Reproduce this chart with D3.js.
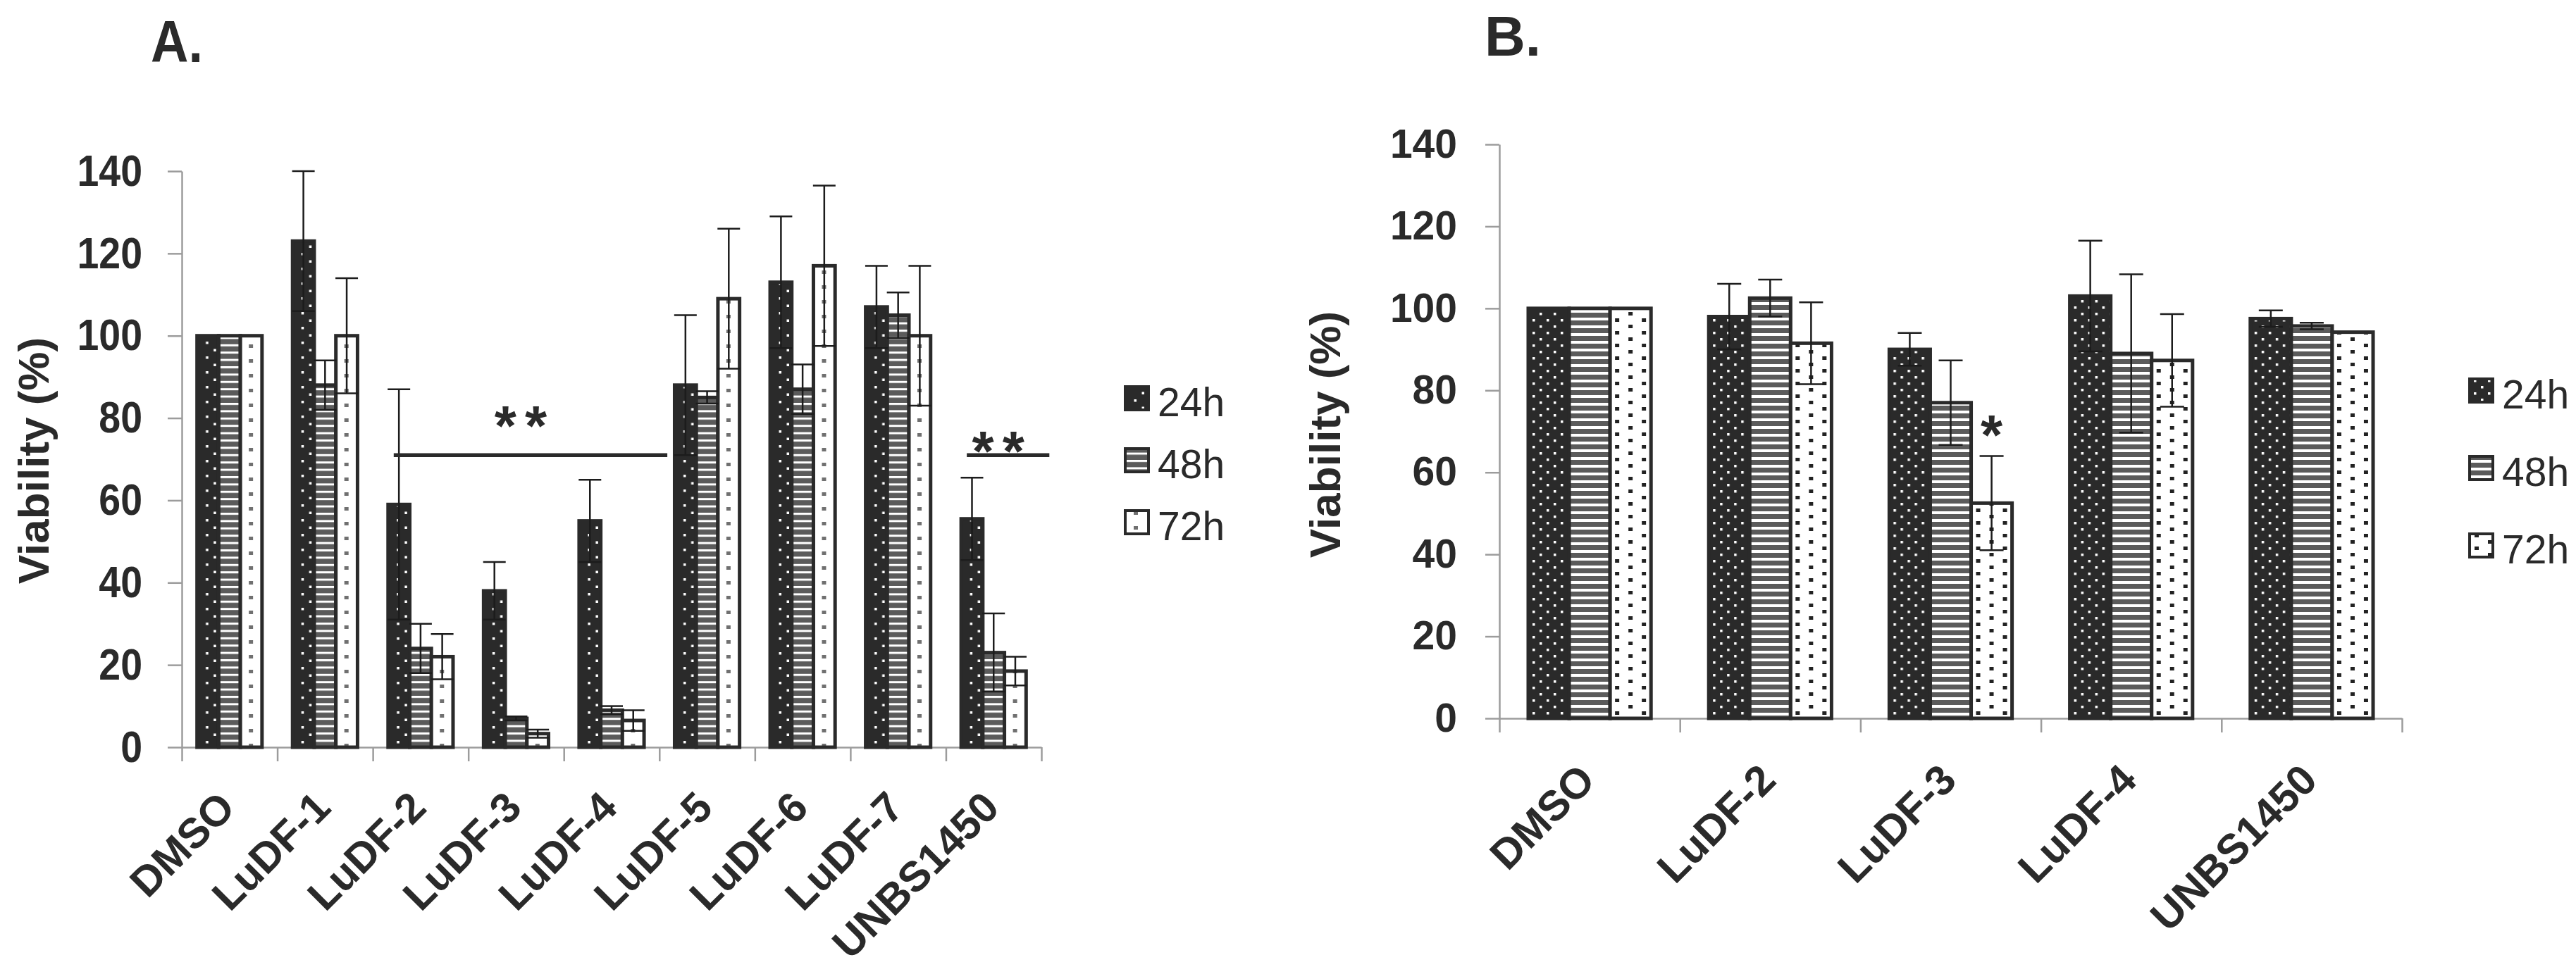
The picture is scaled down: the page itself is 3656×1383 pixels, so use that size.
<!DOCTYPE html>
<html>
<head>
<meta charset="utf-8">
<script src="https://cdn.jsdelivr.net/npm/d3@7"></script>
<style>
  body { margin: 0; background: #fff; }
  svg { display: block; font-family: "Liberation Sans", Arial, sans-serif; }
</style>
</head>
<body>
<svg id="chart"></svg>
<script>
// ---- data ----
const seriesLabels = ["24h", "48h", "72h"];
const yTicks = [0, 20, 40, 60, 80, 100, 120, 140];

// panel A
const catsA = ["DMSO", "LuDF-1", "LuDF-2", "LuDF-3", "LuDF-4", "LuDF-5", "LuDF-6", "LuDF-7", "UNBS1450"];
const meanA24 = [100, 123, 59, 38, 55, 88, 113, 107, 55.5];
const meanA48 = [100, 88, 24, 7, 9, 85, 87, 105, 23];
const meanA72 = [100, 100, 22, 3.3, 6.5, 109, 117, 100, 18.5];
const errA24 = [0, 17, 28, 7, 10, 17, 16, 10, 10];
const errA48 = [0, 6, 6, 0.5, 1, 1.5, 6, 5.5, 9.5];
const errA72 = [0, 14, 5.5, 1, 2.5, 17, 19.5, 17, 3.5];
const sigA = [
  { from: "LuDF-2", to: "LuDF-4", level: 71, mark: "**" },
  { from: "UNBS1450", to: "UNBS1450", level: 71, mark: "**" }
];

// panel B
const catsB = ["DMSO", "LuDF-2", "LuDF-3", "LuDF-4", "UNBS1450"];
const meanB24 = [100, 98, 90, 103, 97.5];
const meanB48 = [100, 102.5, 77, 89, 95.7];
const meanB72 = [100, 91.5, 52.5, 87.3, 94.2];
const errB24 = [0, 8, 4, 13.5, 2];
const errB48 = [0, 4.5, 10.3, 19.3, 0.8];
const errB72 = [0, 10, 11.5, 11.3, 0];
const sigB = [{ cat: "LuDF-3", series: "72h", mark: "*" }];

// ---- setup ----
const W = 3656, H = 1383;
const ink = "#2a2a2a";
const svg = d3.select("#chart").attr("width", W).attr("height", H);
const defs = svg.append("defs");

// patterns: 24h dark dotted, 48h striped, 72h light dotted
function makePatterns(id, o) {
  const p24 = defs.append("pattern").attr("id", id + "-24h")
    .attr("patternUnits", "userSpaceOnUse").attr("width", o.dotW).attr("height", o.dotH);
  p24.append("rect").attr("width", o.dotW).attr("height", o.dotH).attr("fill", ink);
  o.dots.forEach(d => p24.append("rect").attr("x", d[0]).attr("y", d[1])
    .attr("width", o.dotS).attr("height", o.dotS).attr("fill", "#fff"));

  const p48 = defs.append("pattern").attr("id", id + "-48h")
    .attr("patternUnits", "userSpaceOnUse").attr("width", 40).attr("height", o.stripe);
  p48.append("rect").attr("width", 40).attr("height", o.stripe).attr("fill", "#5b5b5b");
  p48.append("rect").attr("width", 40).attr("height", o.stripeW).attr("fill", "#fff");

  const p72 = defs.append("pattern").attr("id", id + "-72h")
    .attr("patternUnits", "userSpaceOnUse").attr("width", o.lightW).attr("height", o.lightH);
  p72.append("rect").attr("width", o.lightW).attr("height", o.lightH).attr("fill", "#fff");
  o.light.forEach(d => p72.append("rect").attr("x", d[0]).attr("y", d[1])
    .attr("width", o.lightS[0]).attr("height", o.lightS[1]).attr("fill", o.lightC));
}

makePatterns("pA", {
  dotW: 200, dotH: 21, dotS: 3.5, dots: [[12.5, 2], [23.5, 12.5]],
  stripe: 10.4, stripeW: 3,
  lightW: 200, lightH: 21, light: [[12, 6], [112, 6]], lightS: [6, 5], lightC: "#707070"
});
makePatterns("pB", {
  dotW: 20, dotH: 18, dotS: 3.5, dots: [[6, 3], [16, 12]],
  stripe: 11, stripeW: 4,
  lightW: 38, lightH: 18, light: [[7, 2], [26, 11]], lightS: [6, 5], lightC: "#222"
});

function drawPanel(p) {
  const g = svg.append("g");
  const n = p.cats.length;

  const x = d3.scaleBand().domain(p.cats).range([p.left, p.right])
    .paddingInner(0.32).paddingOuter(0.16);
  const xs = d3.scaleBand().domain(seriesLabels).range([0, x.bandwidth()]);
  const y = d3.scaleLinear().domain([0, 140]).range([p.bottom, p.top]);
  const xEdge = d3.scaleLinear().domain([0, n]).range([p.left, p.right]);

  // title
  g.append("text").attr("transform", `translate(${p.titleX},${p.titleY}) scale(${p.squeeze},1)`)
    .attr("font-size", p.titleSize).attr("font-weight", "bold").attr("fill", ink)
    .text(p.title);

  // y axis
  const ya = g.append("g").attr("transform", `translate(${p.left},0)`)
    .call(d3.axisLeft(y).tickValues(yTicks).tickSize(20).tickSizeOuter(0).tickPadding(p.tickPad));
  ya.selectAll("path, line").attr("stroke", "#9c9c9c").attr("stroke-width", 2.5);
  ya.selectAll("text").attr("font-size", p.tickSize).attr("font-weight", "bold")
    .attr("fill", ink)
    .attr("x", -(20 + p.tickPad) / p.squeeze)
    .attr("transform", `scale(${p.squeeze},1)`);

  // x axis with ticks at category edges
  const xa = g.append("g").attr("transform", `translate(0,${p.bottom})`)
    .call(d3.axisBottom(xEdge).tickValues(d3.range(n + 1)).tickFormat("").tickSize(20).tickSizeOuter(0));
  xa.selectAll("path, line").attr("stroke", "#9c9c9c").attr("stroke-width", 2.5);

  // y title
  g.append("text")
    .attr("transform", `translate(${p.ytX},${p.ytY}) rotate(-90)`)
    .attr("text-anchor", "middle")
    .attr("font-size", p.ytSize).attr("font-weight", "bold").attr("fill", ink)
    .text("Viability (%)");

  // category labels
  g.selectAll(".cat").data(p.cats).join("text")
    .attr("transform", d => `translate(${x(d) + x.bandwidth() / 2 + p.catDx},${p.bottom + p.catDy}) rotate(-45)`)
    .attr("text-anchor", "end")
    .attr("font-size", p.catSize).attr("font-weight", "bold").attr("fill", ink)
    .text(d => d);

  // bars
  const rows = [];
  p.cats.forEach((c, i) => seriesLabels.forEach((s, j) => {
    rows.push({ cat: c, series: s, v: p.means[j][i], e: p.errs[j][i] });
  }));

  const bars = g.selectAll(".bar").data(rows).join("g")
    .attr("transform", d => `translate(${x(d.cat) + xs(d.series)},0)`);
  bars.append("rect")
    .attr("x", 0).attr("y", d => y(d.v))
    .attr("width", xs.bandwidth()).attr("height", d => y(0) - y(d.v))
    .attr("fill", d => `url(#${p.pat}-${d.series})`)
    .attr("stroke", ink).attr("stroke-width", p.barStroke);

  // error bars
  const cap = p.cap / 2;
  const eb = g.selectAll(".err").data(rows.filter(d => d.e > 0)).join("g")
    .attr("transform", d => `translate(${x(d.cat) + xs(d.series) + xs.bandwidth() / 2},0)`)
    .attr("stroke", "#1c1c1c").attr("stroke-width", 2.5);
  eb.append("line")
    .attr("y1", d => y(Math.max(0, d.v - d.e)))
    .attr("y2", d => y(Math.min(140, d.v + d.e)));
  eb.filter(d => d.v + d.e <= 140).append("line")
    .attr("x1", -cap).attr("x2", cap)
    .attr("y1", d => y(d.v + d.e)).attr("y2", d => y(d.v + d.e));
  eb.append("line")
    .attr("x1", -cap).attr("x2", cap)
    .attr("y1", d => y(Math.max(0, d.v - d.e))).attr("y2", d => y(Math.max(0, d.v - d.e)));

  // legend
  const lg = g.selectAll(".leg").data(seriesLabels).join("g")
    .attr("transform", (d, i) => `translate(${p.legX},${p.legY + i * p.legGap})`);
  lg.append("rect").attr("x", 0).attr("y", -16).attr("width", 33).attr("height", 33)
    .attr("fill", d => `url(#${p.pat}-${d})`).attr("stroke", ink).attr("stroke-width", 4);
  lg.append("text").attr("x", 46).attr("y", 26)
    .attr("font-size", p.legSize).attr("fill", ink).text(d => d);

  return { g, x, xs, y };
}

// ---- panel A ----
const A = drawPanel({
  title: "A.", titleX: 214, titleY: 88, titleSize: 84, squeeze: 0.88,
  cats: catsA, means: [meanA24, meanA48, meanA72], errs: [errA24, errA48, errA72],
  left: 258, right: 1478, top: 243, bottom: 1061,
  tickPad: 36, tickSize: 63,
  ytX: 69, ytY: 654, ytSize: 62,
  catDx: 11, catDy: 89, catSize: 60,
  pat: "pA", barStroke: 5, cap: 32,
  legX: 1597, legY: 565, legGap: 88, legSize: 57
});

// significance bars, panel A
const markDyA = [60, 24];
sigA.forEach((s, i) => {
  const x1 = A.x(s.from) + 8;
  const x2 = A.x(s.to) + A.x.bandwidth() + 33;
  const yy = A.y(s.level);
  A.g.append("line").attr("x1", x1).attr("x2", x2).attr("y1", yy).attr("y2", yy)
    .attr("stroke", ink).attr("stroke-width", 5.5);
  A.g.append("text").attr("x", (x1 + x2) / 2 - 8).attr("y", yy - markDyA[i] + 46)
    .attr("text-anchor", "middle").attr("font-size", 80).attr("font-weight", "bold")
    .attr("letter-spacing", 12).attr("fill", ink).text(s.mark);
});

// ---- panel B ----
const B = drawPanel({
  title: "B.", titleX: 2107, titleY: 79, titleSize: 80, squeeze: 1,
  cats: catsB, means: [meanB24, meanB48, meanB72], errs: [errB24, errB48, errB72],
  left: 2128, right: 3409, top: 205, bottom: 1020,
  tickPad: 40, tickSize: 57,
  ytX: 1902, ytY: 617, ytSize: 62,
  catDx: 11, catDy: 91, catSize: 60,
  pat: "pB", barStroke: 5, cap: 34,
  legX: 3505, legY: 554, legGap: 110, legSize: 57
});

sigB.forEach(s => {
  const i = catsB.indexOf(s.cat), j = seriesLabels.indexOf(s.series);
  const top = [meanB24, meanB48, meanB72][j][i] + [errB24, errB48, errB72][j][i];
  const cx = B.x(s.cat) + B.xs(s.series) + B.xs.bandwidth() / 2;
  B.g.append("text").attr("x", cx).attr("y", B.y(top) - 48 + 46)
    .attr("text-anchor", "middle").attr("font-size", 80).attr("font-weight", "bold")
    .attr("fill", ink).text(s.mark);
});
</script>
</body>
</html>
